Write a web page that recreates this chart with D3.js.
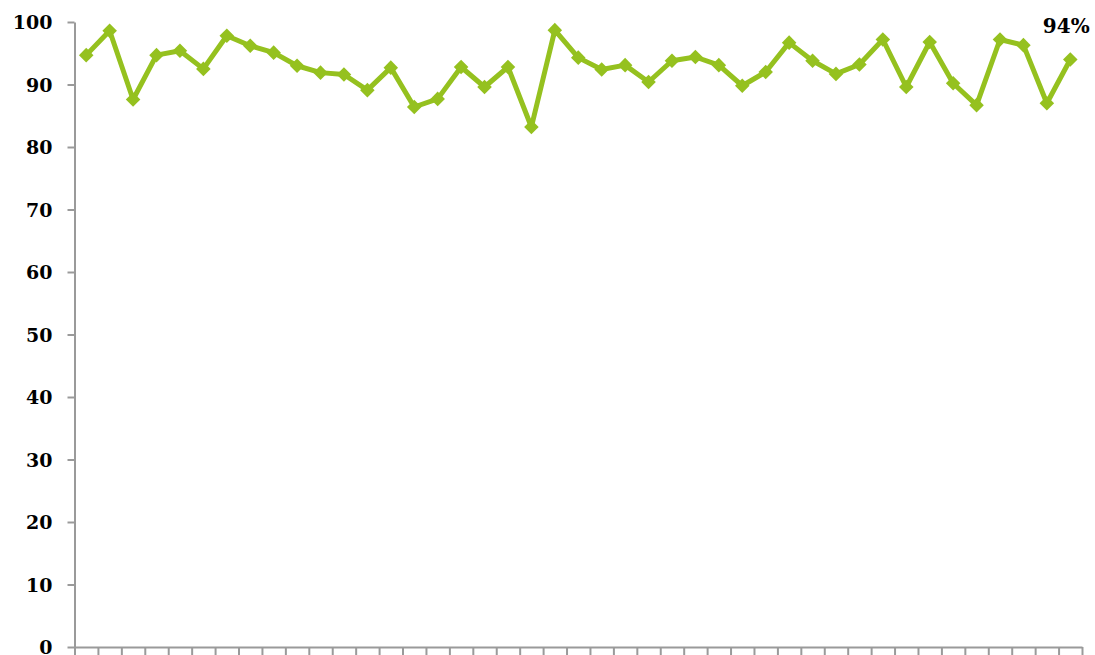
<!DOCTYPE html>
<html>
<head>
<meta charset="utf-8">
<script src="https://cdn.jsdelivr.net/npm/d3@7"></script>
<style>
  html, body { margin: 0; padding: 0; background: #fff; }
  svg { display: block; }
  .tick text { font-family: "DejaVu Serif", serif; font-weight: bold; font-size: 19px; fill: #000; }
</style>
</head>
<body>
<svg id="chart" width="1095" height="655"></svg>
<script>
// Monthly percentage values, one per period
const periods = d3.range(1, 44);
const values = [
  94.7, 98.6, 87.6, 94.7, 95.4, 92.5, 97.8, 96.2, 95.1, 93.0,
  91.9, 91.6, 89.1, 92.7, 86.4, 87.7, 92.8, 89.6, 92.8, 83.2,
  98.7, 94.3, 92.4, 93.1, 90.4, 93.8, 94.4, 93.1, 89.8, 92.0,
  96.7, 93.8, 91.7, 93.2, 97.2, 89.6, 96.8, 90.2, 86.7, 97.2,
  96.3, 87.0, 94.0
];
const yTicks = [0, 10, 20, 30, 40, 50, 60, 70, 80, 90, 100];

const svg = d3.select("#chart");
const plotLeft = 74.5, plotRight = 1082, plotTop = 22, plotBottom = 647;
const green = "#95c11f";
const axisGrey = "#9a9a9a";

const x = d3.scaleBand().domain(periods).range([plotLeft, plotRight]).padding(0);
const xEdge = d3.scaleLinear().domain([0, periods.length]).range([plotLeft, plotRight]);
const y = d3.scaleLinear().domain([0, 100]).range([plotBottom, plotTop]);

// Y axis
const yAxis = svg.append("g")
  .attr("transform", `translate(${plotLeft},0)`)
  .call(d3.axisLeft(y).tickValues(yTicks).tickSize(7).tickPadding(15).tickSizeOuter(0));
yAxis.selectAll("line, path").attr("stroke", axisGrey).attr("stroke-width", 2);
yAxis.selectAll("text").attr("dy", "0.36em");

// X axis: tick marks at category boundaries, no labels
const xAxis = svg.append("g")
  .attr("transform", `translate(0,${plotBottom})`)
  .call(d3.axisBottom(xEdge).tickValues(d3.range(0, periods.length + 1)).tickSize(9).tickFormat("").tickSizeOuter(0));
xAxis.selectAll("line, path").attr("stroke", axisGrey).attr("stroke-width", 2);

// Line
const line = d3.line()
  .x((d, i) => x(periods[i]) + x.bandwidth() / 2)
  .y(d => y(d));

svg.append("path")
  .datum(values)
  .attr("d", line)
  .attr("fill", "none")
  .attr("stroke", green)
  .attr("stroke-width", 5)
  .attr("stroke-linejoin", "round");

// Diamond markers
const sym = d3.symbol().type(d3.symbolDiamond2).size(135);
svg.append("g").selectAll("path")
  .data(values)
  .join("path")
  .attr("d", sym)
  .attr("transform", (d, i) => `translate(${x(periods[i]) + x.bandwidth() / 2},${y(d)})`)
  .attr("fill", green);

// Last value label
const lastIdx = values.length - 1;
svg.append("text")
  .attr("x", x(periods[lastIdx]) + x.bandwidth() / 2 - 4)
  .attr("y", y(values[lastIdx]) - 27)
  .attr("text-anchor", "middle")
  .attr("font-family", "DejaVu Serif, serif")
  .attr("font-weight", "bold")
  .attr("font-size", 20)
  .text(Math.round(values[lastIdx]) + "%");
</script>
</body>
</html>
